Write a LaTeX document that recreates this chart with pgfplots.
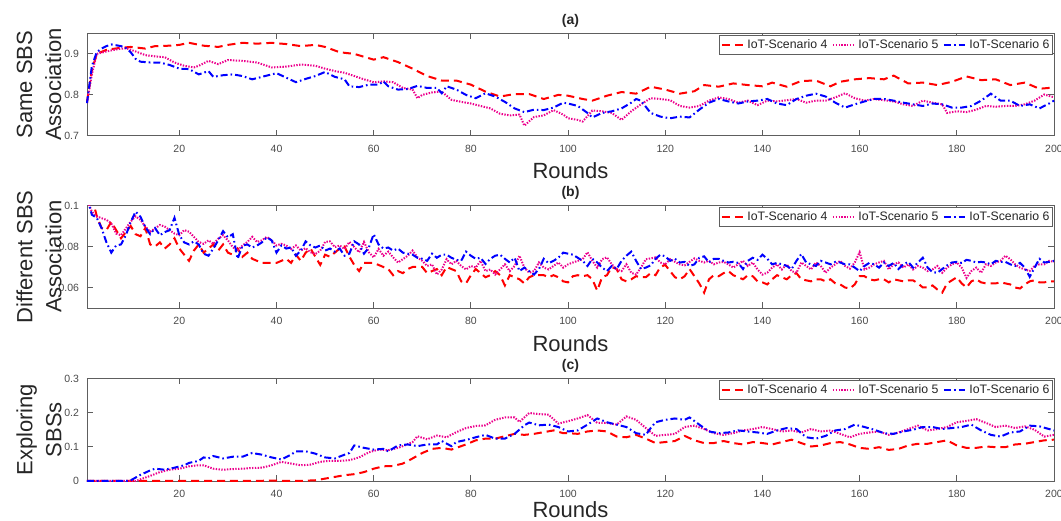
\documentclass[border=0pt]{standalone}
\usepackage{fontspec}
\setmainfont{Liberation Sans}
\usepackage{pgfplots}
\pgfplotsset{compat=1.18}
\usepackage{pgfplotstable}

\definecolor{axgray}{HTML}{5E5E5E}
\definecolor{txtgray}{HTML}{4A4A4A}
\definecolor{lblack}{HTML}{262626}

% panel (b): round, scenario 4, 5, 6
\pgfplotstableread{
r s4 s5 s6
1 0.110 0.103 0.104
2 0.104 0.097 0.0955
3 0.095 0.0947 0.094
4 0.089 0.0938 0.089
5 0.088 0.093 0.082
6 0.092 0.0913 0.077
7 0.088 0.0863 0.0805
8 0.084 0.0855 0.081
9 0.087 0.0888 0.0855
10 0.090 0.0922 0.092
11 0.086 0.0947 0.097
12 0.085 0.093 0.0945
13 0.089 0.0897 0.0895
14 0.081 0.0872 0.086
15 0.080 0.0888 0.089
16 0.082 0.0905 0.0855
17 0.079 0.0897 0.087
18 0.081 0.088 0.088
19 0.084 0.0863 0.094
20 0.079 0.0855 0.0855
21 0.076 0.088 0.082
22 0.073 0.0872 0.081
23 0.078 0.0847 0.0825
24 0.081 0.0822 0.081
25 0.077 0.0813 0.0765
26 0.079 0.083 0.0755
27 0.081 0.0813 0.079
28 0.078 0.0838 0.083
29 0.081 0.0855 0.0875
30 0.077 0.083 0.0845
31 0.076 0.0797 0.086
32 0.079 0.078 0.074
33 0.075 0.0805 0.0805
34 0.077 0.0822 0.081
35 0.074 0.0847 0.0795
36 0.073 0.0822 0.0805
37 0.072 0.083 0.082
38 0.072 0.0847 0.0845
39 0.072 0.083 0.083
40 0.072 0.0805 0.077
41 0.073 0.0813 0.0805
42 0.074 0.0805 0.079
43 0.072 0.0788 0.0795
44 0.076 0.0805 0.0755
45 0.073 0.078 0.078
46 0.077 0.0792 0.0825
47 0.079 0.0772 0.0805
48 0.075 0.0763 0.0795
49 0.071 0.078 0.0805
50 0.076 0.0822 0.078
51 0.075 0.0825 0.079
52 0.077 0.0797 0.0775
53 0.079 0.0805 0.079
54 0.080 0.0788 0.0755
55 0.075 0.0822 0.0765
56 0.071 0.0797 0.0825
57 0.068 0.0772 0.081
58 0.072 0.0822 0.0765
59 0.072 0.0772 0.0795
60 0.072 0.0747 0.086
61 0.071 0.0788 0.081
62 0.070 0.0755 0.079
63 0.069 0.0775 0.0795
64 0.066 0.0747 0.078
65 0.068 0.0722 0.079
66 0.067 0.0738 0.077
67 0.069 0.0755 0.0765
68 0.070 0.078 0.076
69 0.070 0.0747 0.0745
70 0.070 0.073 0.074
71 0.067 0.0705 0.073
72 0.068 0.0713 0.0765
73 0.069 0.0663 0.0745
74 0.066 0.0688 0.076
75 0.070 0.0738 0.076
76 0.069 0.0713 0.0745
77 0.068 0.073 0.0735
78 0.063 0.0705 0.073
79 0.062 0.0688 0.0775
80 0.066 0.0705 0.0755
81 0.069 0.0697 0.074
82 0.067 0.073 0.0745
83 0.065 0.068 0.0715
84 0.066 0.0688 0.074
85 0.068 0.0663 0.0755
86 0.066 0.0688 0.076
87 0.061 0.0713 0.074
88 0.066 0.068 0.0722
89 0.065 0.0705 0.0745
90 0.064 0.0755 0.068
91 0.062 0.0697 0.0697
92 0.065 0.0672 0.068
93 0.066 0.068 0.0663
94 0.066 0.0722 0.069
95 0.066 0.0697 0.074
96 0.065 0.0688 0.0718
97 0.066 0.0705 0.073
98 0.065 0.0722 0.0745
99 0.063 0.0697 0.077
100 0.0625 0.0713 0.0765
101 0.0655 0.0722 0.076
102 0.066 0.073 0.0745
103 0.0655 0.0738 0.073
104 0.066 0.0772 0.0705
105 0.064 0.073 0.074
106 0.0585 0.0697 0.0722
107 0.065 0.0738 0.0697
108 0.066 0.0747 0.068
109 0.070 0.0713 0.0705
110 0.069 0.0688 0.069
111 0.064 0.068 0.073
112 0.063 0.0713 0.0755
113 0.064 0.0672 0.0775
114 0.0655 0.0663 0.073
115 0.065 0.0697 0.069
116 0.065 0.0738 0.0697
117 0.067 0.0742 0.0708
118 0.066 0.0747 0.074
119 0.070 0.0722 0.076
120 0.071 0.0713 0.0752
121 0.068 0.0738 0.073
122 0.065 0.0725 0.074
123 0.064 0.0713 0.0722
124 0.0655 0.0708 0.0725
125 0.069 0.0725 0.0705
126 0.0655 0.0742 0.0713
127 0.062 0.073 0.0745
128 0.0575 0.0722 0.0752
129 0.064 0.073 0.0722
130 0.066 0.0713 0.074
131 0.0655 0.0722 0.074
132 0.067 0.0725 0.073
133 0.068 0.0713 0.0722
134 0.066 0.0697 0.0725
135 0.065 0.0713 0.072
136 0.064 0.073 0.069
137 0.066 0.0705 0.073
138 0.0655 0.0722 0.0745
139 0.063 0.0688 0.0735
140 0.0625 0.0663 0.076
141 0.0615 0.0672 0.074
142 0.064 0.0697 0.0713
143 0.066 0.0713 0.072
144 0.065 0.0688 0.0713
145 0.064 0.0713 0.0705
146 0.066 0.068 0.069
147 0.067 0.0672 0.073
148 0.064 0.0722 0.0763
149 0.0635 0.0705 0.0722
150 0.063 0.0688 0.0713
151 0.064 0.0722 0.0705
152 0.064 0.0705 0.073
153 0.063 0.0672 0.0722
154 0.064 0.0697 0.0713
155 0.062 0.0713 0.0725
156 0.0615 0.073 0.0722
157 0.060 0.0705 0.0713
158 0.0595 0.0692 0.0713
159 0.0615 0.0722 0.0697
160 0.0655 0.0772 0.068
161 0.0655 0.0688 0.0705
162 0.064 0.0697 0.072
163 0.0635 0.0713 0.0713
164 0.064 0.0722 0.0697
165 0.064 0.073 0.0722
166 0.0625 0.0688 0.0705
167 0.064 0.0713 0.072
168 0.0635 0.0722 0.069
169 0.063 0.0697 0.0713
170 0.0635 0.0713 0.0725
171 0.0635 0.0688 0.0697
172 0.062 0.0705 0.0722
173 0.060 0.0697 0.0745
174 0.060 0.068 0.0697
175 0.061 0.0688 0.0675
176 0.059 0.0705 0.0672
177 0.0575 0.0672 0.069
178 0.062 0.0697 0.0708
179 0.0635 0.0713 0.0722
180 0.065 0.0722 0.0725
181 0.062 0.0697 0.072
182 0.060 0.0647 0.0735
183 0.063 0.068 0.073
184 0.064 0.0697 0.0722
185 0.0625 0.0672 0.0725
186 0.062 0.0713 0.0722
187 0.062 0.0705 0.0713
188 0.062 0.0722 0.073
189 0.0625 0.073 0.0725
190 0.062 0.0755 0.0725
191 0.0615 0.0738 0.0713
192 0.060 0.0713 0.0705
193 0.0595 0.0697 0.072
194 0.0615 0.0688 0.0697
195 0.063 0.068 0.0652
196 0.0635 0.0705 0.0697
197 0.0625 0.0713 0.074
198 0.0625 0.0713 0.0722
199 0.063 0.073 0.0725
200 0.063 0.0725 0.073
}\tabB

\pgfplotsset{
  every axis title shift=0pt,
  panel/.style={
    scale only axis, width=967pt, height=102.5pt, anchor=north west,
    xmin=1, xmax=200, xtick={20,40,...,200},
    axis line style={axgray, line width=0.8pt},
    tick style={axgray, line width=0.8pt},
    major tick length=6pt, tick align=inside,
    /pgf/number format/assume math mode=true,
    every tick label/.append style={font=\fontsize{10.5}{12}\selectfont, text=txtgray},
    xticklabel style={yshift=-5.5pt},
    yticklabel style={xshift=-4.5pt},
    title style={at={(axis description cs:0.5,1.09)}, anchor=base,
      font=\fontsize{14}{16}\selectfont\bfseries, text=lblack},
    xlabel={Rounds},
    xlabel style={at={(axis description cs:0.5,-0.42)}, anchor=base, inner sep=1pt,
      font=\fontsize{22}{26}\selectfont, text=lblack},
    ylabel style={at={(axis description cs:-0.0496,0.5)}, anchor=center,
      align=center, font=\fontsize{22}{29}\selectfont, text=lblack},
    legend style={at={(axis description cs:0.999,0.985)}, anchor=north east,
      legend columns=3, font=\fontsize{12.3}{14}\selectfont, text=lblack,
      draw=axgray, line width=0.8pt, inner xsep=1.2pt, inner ysep=2.5pt,
      /tikz/every odd column/.append style={column sep=1.5pt},
      /tikz/every even column/.append style={column sep=2.5pt}},
    legend image code/.code={\draw[#1] (0pt,0pt) -- (21pt,0pt);},
  },
  s4/.style={red, line width=2pt, dash pattern=on 8pt off 5pt},
  s5/.style={magenta, line width=2pt, dash pattern=on 1.4pt off 1.4pt},
  s6/.style={blue, line width=2pt, dash pattern=on 7pt off 3pt on 1.6pt off 3pt},
}

\begin{document}
\begin{tikzpicture}
\useasboundingbox (0,0) rectangle (1061pt,-521pt);

% (a)
\begin{axis}[panel, at={(87pt,-33.4pt)}, clip=false,
  title={(a)}, ylabel={Same SBS\\Association},
  ymin=0.7, ymax=0.95, ytick={0.7,0.8,0.9}, yticklabels={0.7,0.8,0.9}]
\addplot[s4] coordinates {(1,0.783) (2,0.86) (3,0.90) (5,0.91) (8,0.915) (10,0.917) (13,0.913) (15,0.919) (18,0.92) (20,0.922) (22,0.927) (25,0.92) (28,0.917) (30,0.922) (33,0.927) (36,0.925) (39,0.927) (42,0.924) (45,0.919) (48,0.922) (50,0.917) (53,0.904) (56,0.9) (60,0.886) (62,0.892) (65,0.88) (68,0.864) (71,0.846) (74,0.835) (77,0.835) (80,0.825) (83,0.808) (86,0.796) (89,0.802) (92,0.802) (95,0.79) (98,0.8) (100,0.798) (103,0.79) (105,0.786) (108,0.798) (111,0.807) (114,0.803) (117,0.82) (120,0.813) (123,0.803) (126,0.809) (128,0.824) (131,0.82) (134,0.828) (137,0.824) (140,0.821) (142,0.83) (145,0.82) (148,0.834) (151,0.835) (154,0.821) (156,0.832) (159,0.838) (162,0.841) (165,0.838) (167,0.847) (170,0.828) (173,0.83) (176,0.824) (179,0.832) (182,0.845) (185,0.836) (188,0.838) (191,0.824) (194,0.83) (197,0.815) (200,0.818)};
\addplot[s5] coordinates {(1,0.78) (2,0.85) (3,0.9) (5,0.906) (7,0.911) (9,0.914) (11,0.906) (13,0.897) (15,0.894) (17,0.892) (19,0.879) (21,0.871) (23,0.867) (24,0.871) (26,0.883) (28,0.875) (30,0.885) (33,0.883) (36,0.879) (39,0.867) (42,0.869) (45,0.874) (48,0.871) (50,0.864) (52,0.858) (54,0.854) (56,0.846) (58,0.838) (60,0.831) (62,0.833) (64,0.831) (66,0.817) (68,0.813) (69,0.792) (70,0.8) (72,0.806) (74,0.808) (76,0.788) (78,0.783) (80,0.779) (82,0.773) (84,0.767) (86,0.754) (88,0.75) (90,0.752) (91,0.725) (93,0.746) (95,0.75) (97,0.763) (99,0.752) (100,0.743) (102,0.739) (103,0.735) (105,0.762) (107,0.76) (109,0.756) (111,0.739) (113,0.76) (115,0.777) (117,0.792) (119,0.79) (121,0.787) (123,0.773) (125,0.769) (127,0.773) (129,0.786) (131,0.794) (133,0.79) (135,0.781) (137,0.786) (139,0.775) (141,0.786) (143,0.784) (145,0.787) (147,0.79) (149,0.781) (151,0.786) (153,0.786) (155,0.794) (157,0.804) (159,0.792) (161,0.786) (163,0.79) (165,0.787) (167,0.784) (169,0.777) (171,0.773) (173,0.786) (175,0.781) (177,0.777) (178,0.756) (180,0.76) (182,0.758) (184,0.764) (186,0.773) (188,0.771) (190,0.773) (192,0.773) (194,0.777) (196,0.786) (198,0.801) (200,0.794)};
\addplot[s6] coordinates {(1,0.78) (2,0.87) (3,0.904) (4,0.913) (5,0.919) (6,0.923) (7,0.921) (8,0.919) (9,0.914) (10,0.904) (11,0.888) (12,0.881) (14,0.879) (16,0.879) (18,0.873) (20,0.864) (22,0.863) (24,0.85) (26,0.858) (27,0.844) (29,0.848) (31,0.85) (33,0.846) (35,0.838) (37,0.844) (39,0.85) (40,0.853) (42,0.842) (44,0.831) (46,0.839) (48,0.846) (50,0.856) (52,0.844) (54,0.838) (55,0.821) (57,0.819) (59,0.825) (61,0.825) (62,0.833) (63,0.821) (65,0.813) (67,0.814) (69,0.822) (71,0.817) (73,0.817) (74,0.804) (75,0.821) (77,0.813) (79,0.8) (81,0.792) (83,0.804) (85,0.796) (87,0.783) (89,0.767) (91,0.758) (93,0.764) (95,0.763) (97,0.769) (99,0.781) (100,0.779) (102,0.773) (104,0.756) (105,0.745) (107,0.756) (109,0.76) (111,0.767) (113,0.781) (114,0.79) (115,0.786) (117,0.756) (119,0.747) (121,0.743) (123,0.747) (125,0.745) (127,0.764) (129,0.781) (131,0.79) (133,0.784) (135,0.779) (137,0.784) (139,0.786) (141,0.79) (143,0.779) (145,0.775) (147,0.79) (149,0.798) (151,0.803) (153,0.796) (155,0.781) (157,0.769) (159,0.777) (161,0.784) (163,0.79) (165,0.79) (167,0.786) (169,0.781) (171,0.777) (173,0.773) (175,0.779) (177,0.777) (179,0.769) (181,0.769) (183,0.773) (185,0.786) (187,0.803) (189,0.786) (191,0.786) (193,0.773) (195,0.777) (197,0.767) (199,0.779) (200,0.786)};
\legend{IoT-Scenario 4, IoT-Scenario 5, IoT-Scenario 6}
\end{axis}

% (b)
\begin{axis}[panel, at={(87pt,-205.5pt)},
  title={(b)}, ylabel={Different SBS\\Association},
  ymin=0.05, ymax=0.1, ytick={0.06,0.08,0.1}, yticklabels={0.06,0.08,0.1}]
\addplot[s4] table[x=r, y=s4] {\tabB};
\addplot[s5] table[x=r, y=s5] {\tabB};
\addplot[s6] table[x=r, y=s6] {\tabB};
\legend{IoT-Scenario 4, IoT-Scenario 5, IoT-Scenario 6}
\end{axis}

% (c)
\begin{axis}[panel, at={(87pt,-378.5pt)}, clip=false,
  title={(c)}, ylabel={Exploring\\SBSs},
  xlabel style={at={(axis description cs:0.5,-0.355)}},
  ymin=0, ymax=0.3, ytick={0,0.1,0.2,0.3}, yticklabels={0,0.1,0.2,0.3}]
\addplot[s4] coordinates {(1,0) (10,0) (20,0) (30,0) (40,0.001) (44,0) (46,0.001) (48,0.002) (50,0.007) (52,0.012) (54,0.017) (56,0.02) (58,0.026) (60,0.036) (62,0.043) (64,0.044) (66,0.051) (68,0.066) (70,0.082) (72,0.094) (74,0.097) (76,0.092) (77,0.097) (79,0.107) (81,0.119) (83,0.124) (85,0.124) (87,0.131) (89,0.138) (91,0.135) (93,0.138) (95,0.143) (97,0.148) (99,0.14) (100,0.14) (102,0.138) (104,0.145) (106,0.148) (108,0.145) (110,0.13) (112,0.128) (114,0.135) (116,0.124) (118,0.111) (120,0.114) (122,0.117) (124,0.132) (126,0.119) (128,0.111) (130,0.111) (132,0.117) (134,0.111) (136,0.107) (138,0.114) (140,0.111) (142,0.107) (144,0.114) (146,0.121) (148,0.111) (150,0.101) (152,0.104) (154,0.111) (156,0.114) (158,0.107) (160,0.097) (162,0.094) (164,0.099) (166,0.091) (168,0.094) (170,0.104) (172,0.109) (174,0.109) (176,0.114) (178,0.119) (180,0.104) (182,0.097) (184,0.097) (186,0.101) (188,0.099) (190,0.099) (192,0.107) (194,0.109) (196,0.114) (198,0.119) (200,0.121)};
\addplot[s5] coordinates {(1,0) (10,0) (11,0) (12,0.005) (14,0.015) (16,0.026) (18,0.033) (20,0.036) (22,0.043) (24,0.046) (25,0.046) (27,0.036) (29,0.033) (31,0.035) (33,0.036) (35,0.038) (37,0.039) (39,0.046) (41,0.056) (43,0.051) (45,0.046) (47,0.048) (49,0.056) (51,0.059) (53,0.059) (55,0.061) (57,0.069) (59,0.084) (61,0.092) (63,0.09) (65,0.097) (66,0.102) (68,0.114) (69,0.131) (71,0.122) (73,0.133) (75,0.128) (77,0.143) (79,0.155) (81,0.161) (83,0.163) (85,0.179) (87,0.186) (89,0.186) (90,0.173) (92,0.199) (94,0.196) (96,0.194) (98,0.168) (100,0.175) (102,0.183) (104,0.193) (106,0.17) (108,0.17) (110,0.165) (112,0.189) (114,0.179) (116,0.155) (118,0.132) (120,0.135) (122,0.138) (124,0.158) (126,0.162) (128,0.152) (130,0.14) (132,0.135) (134,0.14) (136,0.148) (138,0.152) (140,0.158) (142,0.152) (144,0.145) (146,0.148) (148,0.142) (150,0.152) (152,0.145) (154,0.148) (156,0.138) (158,0.128) (160,0.138) (162,0.142) (164,0.145) (166,0.135) (168,0.142) (170,0.152) (172,0.162) (174,0.148) (176,0.152) (178,0.158) (180,0.172) (182,0.176) (184,0.181) (186,0.17) (188,0.158) (190,0.162) (192,0.155) (194,0.16) (196,0.15) (198,0.13) (200,0.135)};
\addplot[s6] coordinates {(1,0) (9,0) (10,0.002) (11,0.01) (12,0.018) (14,0.031) (15,0.036) (17,0.033) (19,0.039) (21,0.046) (22,0.053) (24,0.059) (25,0.069) (26,0.066) (27,0.073) (29,0.066) (31,0.071) (33,0.071) (35,0.082) (37,0.077) (39,0.069) (41,0.063) (43,0.077) (44,0.087) (46,0.087) (48,0.08) (50,0.069) (52,0.066) (54,0.077) (55,0.082) (56,0.104) (58,0.097) (60,0.092) (62,0.094) (63,0.087) (65,0.104) (67,0.107) (69,0.102) (71,0.107) (73,0.107) (74,0.117) (76,0.102) (77,0.114) (79,0.12) (81,0.128) (83,0.135) (85,0.124) (87,0.124) (89,0.138) (91,0.163) (92,0.171) (94,0.163) (96,0.165) (98,0.158) (100,0.145) (102,0.148) (104,0.165) (106,0.183) (108,0.172) (110,0.165) (112,0.158) (114,0.14) (116,0.135) (117,0.155) (118,0.172) (120,0.179) (122,0.183) (124,0.179) (125,0.186) (127,0.165) (129,0.145) (131,0.14) (133,0.142) (135,0.148) (137,0.145) (139,0.142) (141,0.138) (143,0.148) (145,0.155) (147,0.152) (149,0.128) (151,0.124) (153,0.132) (155,0.148) (157,0.152) (159,0.165) (161,0.158) (163,0.15) (165,0.14) (167,0.138) (169,0.145) (171,0.15) (173,0.158) (175,0.158) (177,0.152) (179,0.155) (181,0.158) (183,0.165) (185,0.148) (187,0.135) (189,0.13) (191,0.142) (193,0.145) (195,0.162) (197,0.16) (199,0.152) (200,0.148)};
\legend{IoT-Scenario 4, IoT-Scenario 5, IoT-Scenario 6}
\end{axis}
\end{tikzpicture}
\end{document}
